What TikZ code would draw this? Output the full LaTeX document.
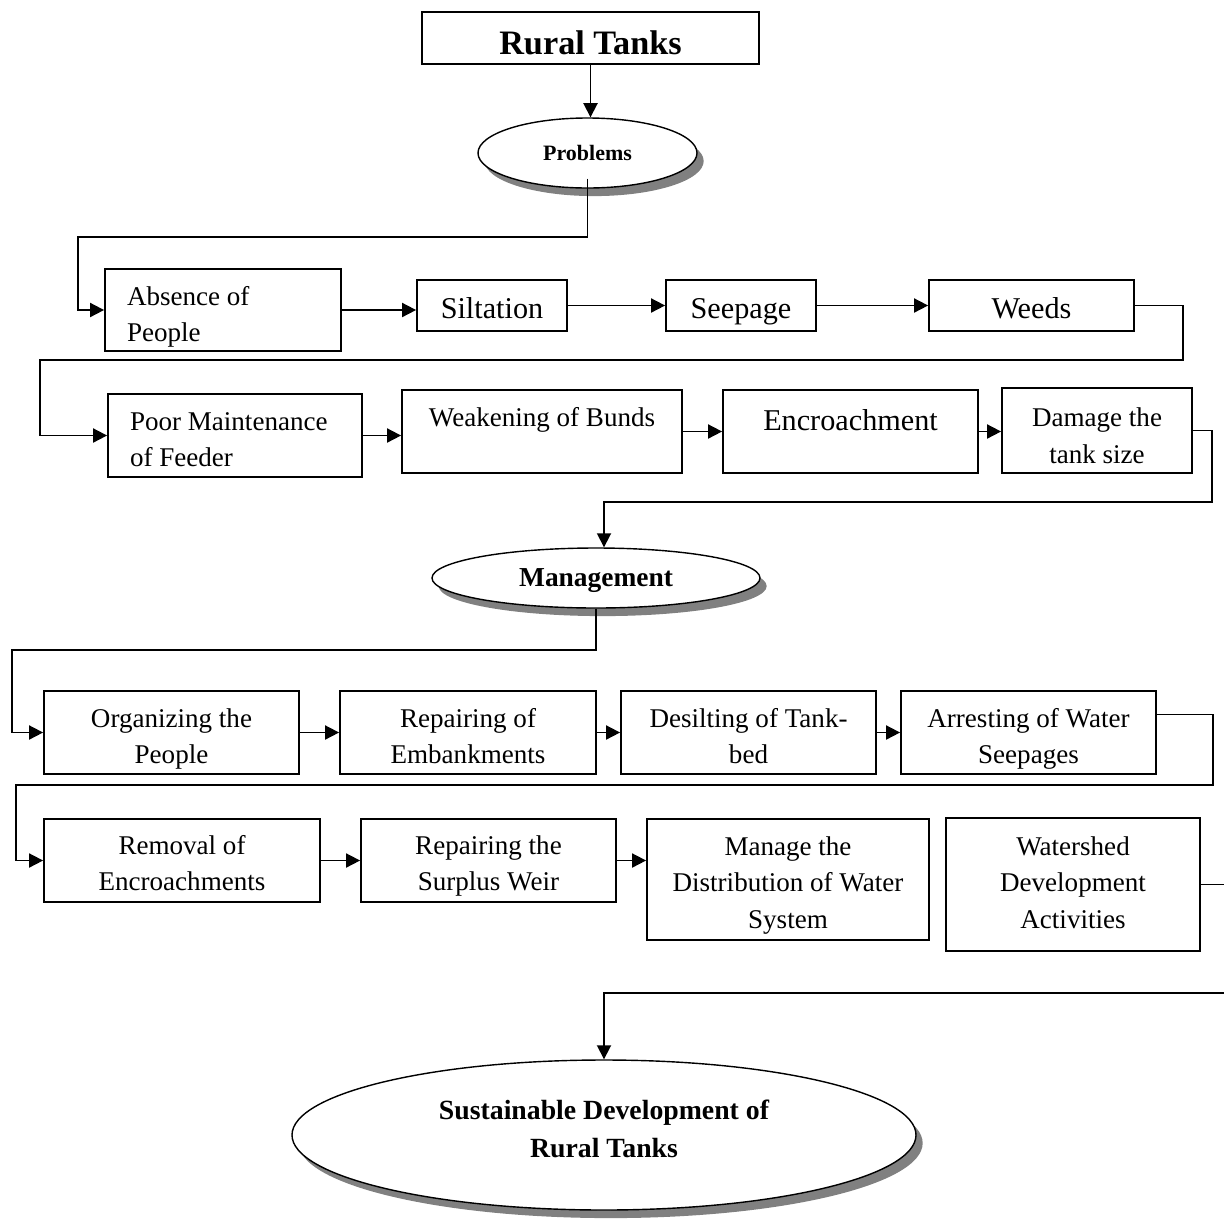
\documentclass[tikz,border=0pt]{standalone}
\usepackage{fontspec}
\setmainfont{Liberation Serif}
\usetikzlibrary{arrows.meta,positioning,shapes.geometric,shadows}
\newdimen\pxu
\pxu=0.02cm

\begin{document}
\begin{tikzpicture}[
      x=0.02cm, y=-0.02cm,
      every node/.style={font=\fontsize{15.4}{20.5}\selectfont},
      fbox/.style 2 args={rectangle, draw, line width=1pt, minimum width=#1\pxu,
                          minimum height=#2\pxu, inner sep=0pt, align=center},
      lbox/.style 2 args={fbox={#1}{#2}, text width=#1\pxu-44\pxu, align=flush left,
                          inner xsep=22\pxu, text depth=15.5pt},
      bigtxt/.style={font=\fontsize{17.2}{20.5}\selectfont},
      tpos/.style 2 args={text height=#1, text depth=#2},
      oval/.style 2 args={ellipse, draw, line width=0.8pt, fill=white,
                          minimum width=#1\pxu, minimum height=#2\pxu, inner sep=0pt,
                          align=center, drop shadow={shadow xshift=3.8pt,
                          shadow yshift=-4.6pt, fill=black!50, opacity=1}},
      flow/.style={line width=1pt, -{Triangle[length=8pt,width=8pt]}},
    ]
    \useasboundingbox (0,0) rectangle (1224,1218);

    % Top: the tanks and their problems
    \node[fbox={337}{52}, font=\fontsize{19.5}{22}\selectfont\bfseries, tpos={18.6pt}{0pt}] (rural)
          at (590.5,38) {Rural Tanks};
    \node[oval={219}{70}, font=\fontsize{12.5}{15}\selectfont\bfseries, text depth=-2.3pt] (prob)
          at (587.5,153) {Problems};

    % Problems, first row
    \node[lbox={236}{82}] (absent) at (223,310) {Absence of\\ People};
    \node[fbox={150}{51}, bigtxt, tpos={14.8pt}{0pt}] (silt) at (492,305.5) {Siltation};
    \node[fbox={150}{51}, bigtxt, tpos={14.8pt}{0pt}] (seep) at (741,305.5) {Seepage};
    \node[fbox={205}{51}, bigtxt, tpos={14.8pt}{0pt}] (weeds) at (1031.5,305.5) {Weeds};

    % Problems, second row
    \node[lbox={254}{83}] (poor) at (235,435.5) {Poor Maintenance\\ of Feeder};
    \node[fbox={280}{83}, text depth=16pt] (weak) at (542,431.5) {Weakening of Bunds};
    \node[fbox={255}{83}, bigtxt, text depth=13pt] (encr) at (850.5,431.5) {Encroachment};
    \node[fbox={190}{85}, tpos={37pt}{0pt}] (dam) at (1097,430.5) {Damage the\\ tank size};

    \node[oval={328}{60}, font=\fontsize{15.6}{18}\selectfont\bfseries, text depth=-3.4pt] (mgmt)
          at (596,578) {Management};

    % Management, first row
    \node[fbox={255}{83}, tpos={35.5pt}{0pt}] (org) at (171.5,732.5) {Organizing the\\ People};
    \node[fbox={256}{83}, tpos={35.5pt}{0pt}] (repemb) at (468,732.5) {Repairing of\\ Embankments};
    \node[fbox={255}{83}, tpos={35.5pt}{0pt}] (desilt) at (748.5,732.5) {Desilting of Tank-\\ bed};
    \node[fbox={255}{83}, tpos={35.5pt}{0pt}] (arrest) at (1028.5,732.5) {Arresting of Water\\ Seepages};

    % Management, second row
    \node[fbox={276}{83}, tpos={34.7pt}{0pt}] (remov) at (182,860.5) {Removal of\\ Encroachments};
    \node[fbox={255}{83}, tpos={34.7pt}{0pt}] (surplus) at (488.5,860.5) {Repairing the\\ Surplus Weir};
    \node[fbox={282}{121}, tpos={55.2pt}{0pt}] (manage) at (788,879.5)
          {Manage the\\ Distribution of Water\\ System};
    \node[fbox={254}{133}, tpos={49.5pt}{0pt}] (water) at (1073,884.5)
          {Watershed\\ Development\\ Activities};

    \node[oval={624}{150}, font=\fontsize{15.8}{21.6}\selectfont\bfseries,
          execute at end node={\rule[-6.8pt]{0pt}{0pt}}] (final) at (604,1135)
          {Sustainable Development of\\ Rural Tanks};

    % Bends of the long connectors
    \coordinate (c1) at (78,237);
    \coordinate (c2) at (1183,360);
    \coordinate (c3) at (40,360);
    \coordinate (c4) at (1212,502);
    \coordinate (c5) at (604,502);
    \coordinate (c6) at (12,650);
    \coordinate (c7) at (1213,785);
    \coordinate (c8) at (16,785);
    \coordinate (c9) at (1240,993);

    % Connectors
    \draw[flow] (rural.south) -- (rural.south |- prob.north);
    \draw[flow] ([yshift=0.2cm]prob.south) |- (c1) |- (absent.west);
    \foreach \a/\b in {absent/silt, silt/seep, seep/weeds, poor/weak, weak/encr, encr/dam,
                       org/repemb, repemb/desilt, desilt/arrest, remov/surplus, surplus/manage}
      \draw[flow] (\a.east) -- (\a.east -| \b.west);
    \draw[flow] (weeds.east) -| (c2) -- (c3) |- (poor.west);
    \draw[flow] (dam.east) -| (c4) -- (c5) -- (c5 |- mgmt.north);
    \draw[flow] (mgmt.south) |- (c6) |- (org.west);
    \draw[flow] ([yshift=0.36cm]arrest.east) -| (c7) -- (c8) |- (remov.west);
    \draw[flow] (water.east) -| (c9) -| (final.north);
  \end{tikzpicture}
\end{document}
